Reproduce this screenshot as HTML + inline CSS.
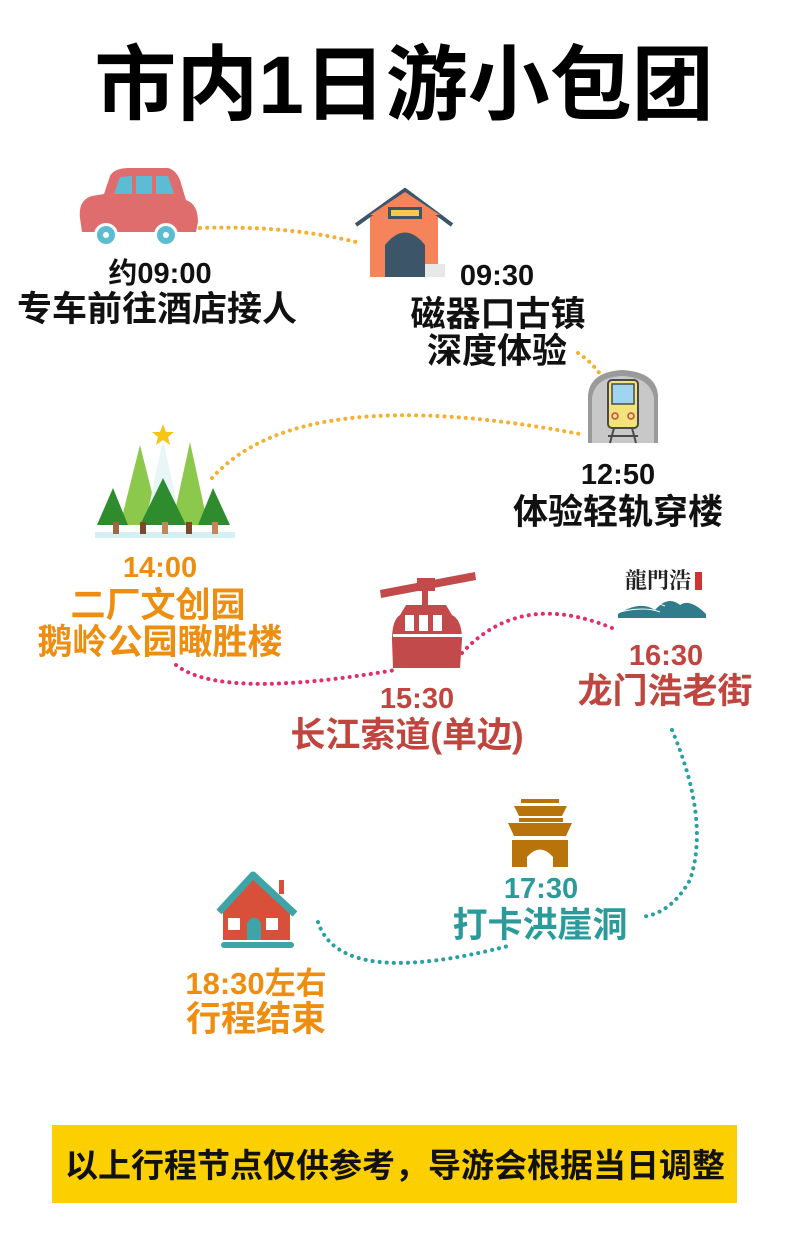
<!DOCTYPE html>
<html><head><meta charset="utf-8"><style>
html,body{margin:0;padding:0;background:#fff;width:790px;height:1245px;overflow:hidden}
svg text{font-family:"Liberation Sans","Noto Sans CJK SC",sans-serif;font-weight:bold;text-anchor:middle}
</style></head><body>
<svg width="790" height="1245" viewBox="0 0 790 1245" xmlns="http://www.w3.org/2000/svg">
<text x="404" y="113" font-size="82" fill="#000" font-weight="900">市内1日游小包团</text>

<g fill="none" stroke-width="4" stroke-linecap="round" stroke-dasharray="0.1 7">
<path d="M200 228 Q290 225 360 243" stroke="#f4b030"/>
<path d="M578 353 Q592 362 603 378" stroke="#f4b030"/>
<path d="M212 478 Q300 380 585 435" stroke="#f4b030"/>
<path d="M176 665 Q220 700 395 670" stroke="#e0306a"/>
<path d="M462 653 Q520 590 612 628" stroke="#e0306a"/>
<path d="M672 730 Q710 820 690 880 Q670 915 640 917" stroke="#2aa0a0"/>
<path d="M318 922 Q340 990 512 945" stroke="#2aa0a0"/>
</g>

<g>
<path d="M80 218 Q78 200 92 196 L104 194 L110 176 Q114 168 130 168 L168 168 Q176 170 180 180 L186 200 Q198 204 198 222 L196 232 L82 232 Z" fill="#e06d6d"/>
<path d="M114 194 L120 177 L132 176 L132 194 Z M136 176 L152 176 L152 194 L136 194 Z M156 176 L168 176 L174 194 L156 194 Z" fill="#5bbcd3"/>
<circle cx="106" cy="235" r="12" fill="#fff"/><circle cx="106" cy="235" r="9" fill="#5bbcd3"/><circle cx="106" cy="235" r="3" fill="#fff"/>
<circle cx="166" cy="235" r="12" fill="#fff"/><circle cx="166" cy="235" r="9" fill="#5bbcd3"/><circle cx="166" cy="235" r="3" fill="#fff"/>
</g>
<g>
<rect x="370" y="215" width="68" height="62" fill="#f5845a"/>
<path d="M356 225 L405 190 L452 225" fill="none" stroke="#3d5569" stroke-width="4"/>
<path d="M370 215 L405 192 L440 215 Z" fill="#f5845a"/>
<rect x="388" y="207" width="34" height="12" fill="#3d5569"/><rect x="391" y="210" width="28" height="6" fill="#f8c84a"/>
<path d="M385 277 L385 245 Q405 220 425 245 L425 277 Z" fill="#3d5569"/>
<rect x="425" y="264" width="20" height="13" fill="#e8e8e8"/>
</g>
<g>
<path d="M588 443 L588 395 Q590 372 622 370 Q656 372 658 395 L658 443 Z" fill="#9a9a9a"/>
<path d="M592 443 L592 398 Q595 377 622 376 Q650 377 654 398 L654 443 Z" fill="#c8c8c8"/>
<rect x="608" y="380" width="30" height="48" rx="4" fill="#f2e47a" stroke="#4a4a4a" stroke-width="2"/>
<rect x="612" y="384" width="22" height="20" fill="#9fd5ee" stroke="#4a4a4a" stroke-width="1.5"/>
<circle cx="615" cy="416" r="3" fill="none" stroke="#c44" stroke-width="1.5"/><circle cx="631" cy="416" r="3" fill="none" stroke="#c44" stroke-width="1.5"/>
<path d="M610 443 L614 428 M636 443 L632 428 M608 436 H638" stroke="#4a4a4a" stroke-width="2"/>
</g>
<g>
<rect x="95" y="532" width="140" height="6" fill="#d5f0f5"/>
<polygon points="140,445 120,525 160,525" fill="#8cc84b"/>
<polygon points="163,440 145,525 182,525" fill="#e8f6f8"/>
<polygon points="190,442 172,525 208,525" fill="#8cc84b"/>
<polygon points="113,488 97,525 128,525" fill="#2e8b2e"/>
<polygon points="213,488 198,525 230,525" fill="#2e8b2e"/>
<polygon points="163,478 140,525 186,525" fill="#2e8b2e"/>
<rect x="113" y="522" width="6" height="12" fill="#a06840"/><rect x="140" y="522" width="6" height="12" fill="#7a4a2a"/>
<rect x="162" y="522" width="6" height="12" fill="#c08858"/><rect x="186" y="522" width="6" height="12" fill="#7a4a2a"/><rect x="212" y="522" width="6" height="12" fill="#c08858"/>
<polygon points="163,424 166,432 174,432 168,437 170,445 163,440 156,445 158,437 152,432 160,432" fill="#f5c518"/>
</g>
<g fill="#c24a4a">
<polygon points="380,590 475,572 476,580 381,598"/>
<rect x="417" y="578" width="18" height="13"/>
<rect x="422" y="591" width="6" height="14"/>
<path d="M406 605 H446 L452 615 Q462 620 462 640 L460 668 L393 668 L392 640 Q392 620 400 615 Z"/>
</g>
<g fill="#fff"><rect x="405" y="615" width="9" height="16"/><rect x="419" y="615" width="9" height="16"/><rect x="433" y="615" width="9" height="16"/><rect x="393" y="634" width="69" height="3"/></g>
<text x="658" y="588" font-size="22" fill="#222" font-weight="normal" style="font-family:'Noto Serif CJK SC',serif">龍門浩</text>
<rect x="695" y="572" width="7" height="18" fill="#c33"/>
<path d="M618 614 Q640 600 655 610 Q668 595 680 605 Q690 598 706 614 L706 618 L618 618 Z" fill="#2f7c8a"/>
<path d="M620 612 Q645 606 660 612 M625 608 Q650 600 665 606" stroke="#fff" stroke-width="1" fill="none"/>
<g fill="#b8730a">
<rect x="521" y="799" width="38" height="4"/>
<path d="M514 806 H567 L562 816 H519 Z"/>
<rect x="519" y="818" width="44" height="4"/>
<path d="M508 823 H572 L566 836 H514 Z"/>
<path d="M512 840 H568 V867 H553 V857 Q540 842 527 857 V867 H512 Z"/>
</g>
<g>
<rect x="279" y="880" width="5" height="14" fill="#d9503a"/>
<polygon points="223,908 253,877 290,908 290,940 223,940" fill="#d9503a"/>
<path d="M219 912 L253 875 L295 914" fill="none" stroke="#3da5a8" stroke-width="7" stroke-linejoin="round"/>
<path d="M247 940 V923 Q254 912 261 923 V940 Z" fill="#3da5a8"/>
<rect x="228" y="918" width="12" height="12" fill="#fff"/><rect x="266" y="918" width="12" height="12" fill="#fff"/>
<rect x="221" y="942" width="73" height="6" rx="3" fill="#3da5a8"/>
</g>

<g font-size="29" fill="#111">
<text x="160" y="283">约09:00</text>
<text x="497" y="285">09:30</text>
<text x="618" y="484">12:50</text>
</g>
<g font-size="35" fill="#111">
<text x="157" y="321">专车前往酒店接人</text>
<text x="498" y="326">磁器口古镇</text>
<text x="497" y="363">深度体验</text>
<text x="618" y="524">体验轻轨穿楼</text>
</g>
<g fill="#ee8e10">
<text x="160" y="577" font-size="29">14:00</text>
<text x="158" y="617" font-size="35">二厂文创园</text>
<text x="160" y="654" font-size="35">鹅岭公园瞰胜楼</text>
<text x="256" y="994" font-size="31">18:30左右</text>
<text x="256" y="1031" font-size="35">行程结束</text>
</g>
<g fill="#c0453f">
<text x="417" y="708" font-size="29">15:30</text>
<text x="407" y="747" font-size="35">长江索道(单边)</text>
<text x="666" y="665" font-size="29">16:30</text>
<text x="665" y="703" font-size="35">龙门浩老街</text>
</g>
<g fill="#2a9a9a">
<text x="541" y="898" font-size="29">17:30</text>
<text x="540" y="937" font-size="35">打卡洪崖洞</text>
</g>

<rect x="52" y="1125" width="685" height="78" fill="#fccf00"/>
<text x="395" y="1177" font-size="33" fill="#111">以上行程节点仅供参考，导游会根据当日调整</text>
</svg>
</body></html>
